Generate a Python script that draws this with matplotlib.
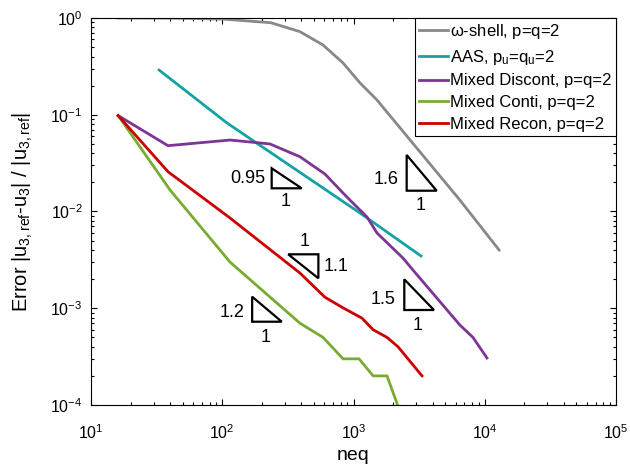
import numpy as np
import matplotlib
matplotlib.use('Agg')
import matplotlib.pyplot as plt
from matplotlib.patches import Polygon

plt.rcParams['font.family'] = ['Liberation Sans', 'DejaVu Sans']
plt.rcParams['mathtext.default'] = 'regular'

# datos de cada serie (neq, error)
neq_shell = [16.1, 38.6, 101, 235, 391, 586, 832, 1122, 1510, 6470, 12860]
err_shell = [1.0, 0.998, 0.975, 0.894, 0.722, 0.526, 0.343, 0.213, 0.142, 0.0131, 0.0040]

neq_aas = [33, 108.7, 1122, 3268]
err_aas = [0.29, 0.0822, 0.00964, 0.00347]

neq_disc = [16.1, 38.6, 114.6, 231, 391, 606, 891, 1268, 1510, 2383, 2840, 6470, 8130, 10400]
err_disc = [0.098, 0.0479, 0.0548, 0.0499, 0.0368, 0.0244, 0.0141, 0.00877, 0.0060, 0.0033,
            0.00248, 6.7e-4, 5.0e-4, 3.06e-4]

neq_conti = [16.1, 40, 114.6, 391, 586, 832, 1102, 1410, 1800, 2300]
err_conti = [0.098, 0.0167, 0.0030, 7.0e-4, 5.0e-4, 3.0e-4, 3.0e-4, 2.0e-4, 2.0e-4, 8e-5]

neq_recon = [16.1, 38.6, 114.6, 391, 606, 832, 1161, 1410, 1800, 2183, 3326]
err_recon = [0.098, 0.0258, 0.00857, 0.00231, 0.0013, 0.00101, 7.9e-4, 6.0e-4, 5.0e-4, 4.0e-4, 2.0e-4]

labels = [r'$\omega$-shell, p=q=2', 'AAS, p$_u$=q$_u$=2', 'Mixed Discont, p=q=2',
          'Mixed Conti, p=q=2', 'Mixed Recon, p=q=2']
colors = ['#888888', '#13A3A6', '#7E3494', '#77AC30', '#CC0000']

# triangulos de pendiente: (x izq, x der, y arriba, y abajo, invertido)
tri = [(238, 403, 0.02796, 0.01737, False),
       (318, 540, 0.00361, 0.00204, True),
       (169, 284, 0.001316, 7.26e-4, False),
       (2438, 4102, 0.00199, 9.59e-4, False),
       (2542, 4302, 0.0384, 0.0164, False)]
tri_txt = [('0.95', 157, 0.0217), ('1', 306, 0.01263),
           ('1', 427, 0.00488), ('1.1', 736, 0.00273),
           ('1.2', 118, 9.08e-4), ('1', 215, 5.01e-4),
           ('1.5', 1687, 0.00122), ('1', 3062, 6.56e-4),
           ('1.6', 1770, 0.0212), ('1', 3252, 0.0114)]

fig = plt.figure(figsize=(6.3, 4.65), dpi=100)
ax = fig.add_axes([91/630, 60/465, 525/630, 387/465])

series = [(neq_shell, err_shell), (neq_aas, err_aas), (neq_disc, err_disc),
          (neq_conti, err_conti), (neq_recon, err_recon)]
for (x, y), lab, c in zip(series, labels, colors):
    ax.plot(x, y, color=c, lw=2, label=lab)

for x0, x1, yt, yb, inv in tri:
    if inv:
        pts = [(x0, yt), (x1, yt), (x1, yb)]
    else:
        pts = [(x0, yt), (x0, yb), (x1, yb)]
    ax.add_patch(Polygon(pts, closed=True, fill=False, ec='black', lw=1.6, joinstyle='miter'))
for s, x, y in tri_txt:
    ax.text(x, y, s, fontsize=13, ha='center', va='center')

# limites y ejes
ax.set_xscale('log')
ax.set_yscale('log')
ax.set_xlim(10, 1e5)
ax.set_ylim(1e-4, 1)
ax.tick_params(which='both', direction='in', top=True, right=True, labelsize=11.5, width=0.8)
ax.tick_params(which='major', length=4)
ax.tick_params(which='minor', length=2.2)
ax.tick_params(axis='x', which='major', pad=13)
ax.tick_params(axis='y', which='major', pad=6)
ax.set_xlabel('neq', fontsize=14, labelpad=4)
ax.set_ylabel('Error |u$_{3,ref}$-u$_3$| / |u$_{3,ref}$|', fontsize=14.5, labelpad=11)
for sp in ax.spines.values():
    sp.set_linewidth(0.8)

leg = ax.legend(loc='upper right', bbox_to_anchor=(1, 1), borderaxespad=0, fontsize=12,
                handlelength=1.75, handletextpad=0.12, labelspacing=0.4, borderpad=0.25,
                fancybox=False, framealpha=1)
leg.get_frame().set_edgecolor('black')
leg.get_frame().set_linewidth(0.8)

fig.savefig('out.png', dpi=100)
